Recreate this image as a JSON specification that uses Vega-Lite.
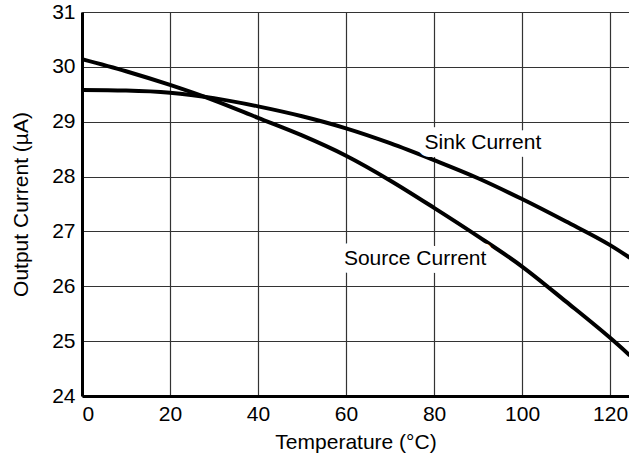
{
  "$schema": "https://vega.github.io/schema/vega-lite/v6.json",
  "width": 547,
  "height": 384,
  "autosize": {"type": "none"},
  "padding": {"left": 82, "top": 12, "right": 0, "bottom": 65},
  "background": "white",
  "config": {
    "view": {"stroke": null},
    "font": "Liberation Sans",
    "axis": {
      "domainColor": "black",
      "domainWidth": 3,
      "gridColor": "#333333",
      "gridWidth": 1.2,
      "gridOpacity": 1,
      "ticks": false,
      "labelColor": "black",
      "titleColor": "black",
      "labelFontSize": 21,
      "titleFontSize": 21,
      "titleFontWeight": "normal",
      "labelFont": "Liberation Sans",
      "titleFont": "Liberation Sans",
      "format": "d"
    }
  },
  "datasets": {
    "curves": [
      {"T": 0, "I": 30.14, "series": "Source"},
      {"T": 10, "I": 29.92, "series": "Source"},
      {"T": 20, "I": 29.67, "series": "Source"},
      {"T": 30, "I": 29.39, "series": "Source"},
      {"T": 40, "I": 29.07, "series": "Source"},
      {"T": 50, "I": 28.75, "series": "Source"},
      {"T": 60, "I": 28.38, "series": "Source"},
      {"T": 70, "I": 27.93, "series": "Source"},
      {"T": 80, "I": 27.43, "series": "Source"},
      {"T": 90, "I": 26.91, "series": "Source"},
      {"T": 100, "I": 26.36, "series": "Source"},
      {"T": 110, "I": 25.72, "series": "Source"},
      {"T": 120, "I": 25.06, "series": "Source"},
      {"T": 124.5, "I": 24.74, "series": "Source"},
      {"T": 0, "I": 29.58, "series": "Sink"},
      {"T": 10, "I": 29.57, "series": "Sink"},
      {"T": 20, "I": 29.53, "series": "Sink"},
      {"T": 30, "I": 29.43, "series": "Sink"},
      {"T": 40, "I": 29.28, "series": "Sink"},
      {"T": 50, "I": 29.1, "series": "Sink"},
      {"T": 60, "I": 28.88, "series": "Sink"},
      {"T": 70, "I": 28.61, "series": "Sink"},
      {"T": 80, "I": 28.3, "series": "Sink"},
      {"T": 90, "I": 27.97, "series": "Sink"},
      {"T": 100, "I": 27.59, "series": "Sink"},
      {"T": 110, "I": 27.18, "series": "Sink"},
      {"T": 120, "I": 26.75, "series": "Sink"},
      {"T": 124.5, "I": 26.52, "series": "Sink"}
    ],
    "labels": [
      {"T": 91.1, "I": 28.62, "text": "Sink Current"},
      {"T": 75.7, "I": 26.5, "text": "Source Current"}
    ]
  },
  "layer": [
    {
      "data": {"name": "curves"},
      "mark": {"type": "line", "color": "black", "strokeWidth": 4, "interpolate": "monotone", "clip": true},
      "encoding": {
        "x": {
          "field": "T", "type": "quantitative",
          "scale": {"domain": [0, 124.3], "nice": false, "zero": false},
          "axis": {"values": [0, 20, 40, 60, 80, 100, 120], "title": "Temperature (°C)", "labelPadding": 7, "titlePadding": 7}
        },
        "y": {
          "field": "I", "type": "quantitative",
          "scale": {"domain": [24, 31], "nice": false, "zero": false},
          "axis": {"values": [24, 25, 26, 27, 28, 29, 30, 31], "title": "Output Current (µA)", "labelPadding": 7, "titlePadding": 20}
        },
        "detail": {"field": "series"}
      }
    },
    {
      "data": {"name": "labels"},
      "mark": {"type": "text", "fontSize": 21, "font": "Liberation Sans", "stroke": "white", "strokeWidth": 16, "fill": "white", "strokeJoin": "round"},
      "encoding": {
        "x": {"field": "T", "type": "quantitative"},
        "y": {"field": "I", "type": "quantitative"},
        "text": {"field": "text"}
      }
    },
    {
      "data": {"name": "labels"},
      "mark": {"type": "text", "fontSize": 21, "font": "Liberation Sans", "color": "black"},
      "encoding": {
        "x": {"field": "T", "type": "quantitative"},
        "y": {"field": "I", "type": "quantitative"},
        "text": {"field": "text"}
      }
    }
  ]
}
